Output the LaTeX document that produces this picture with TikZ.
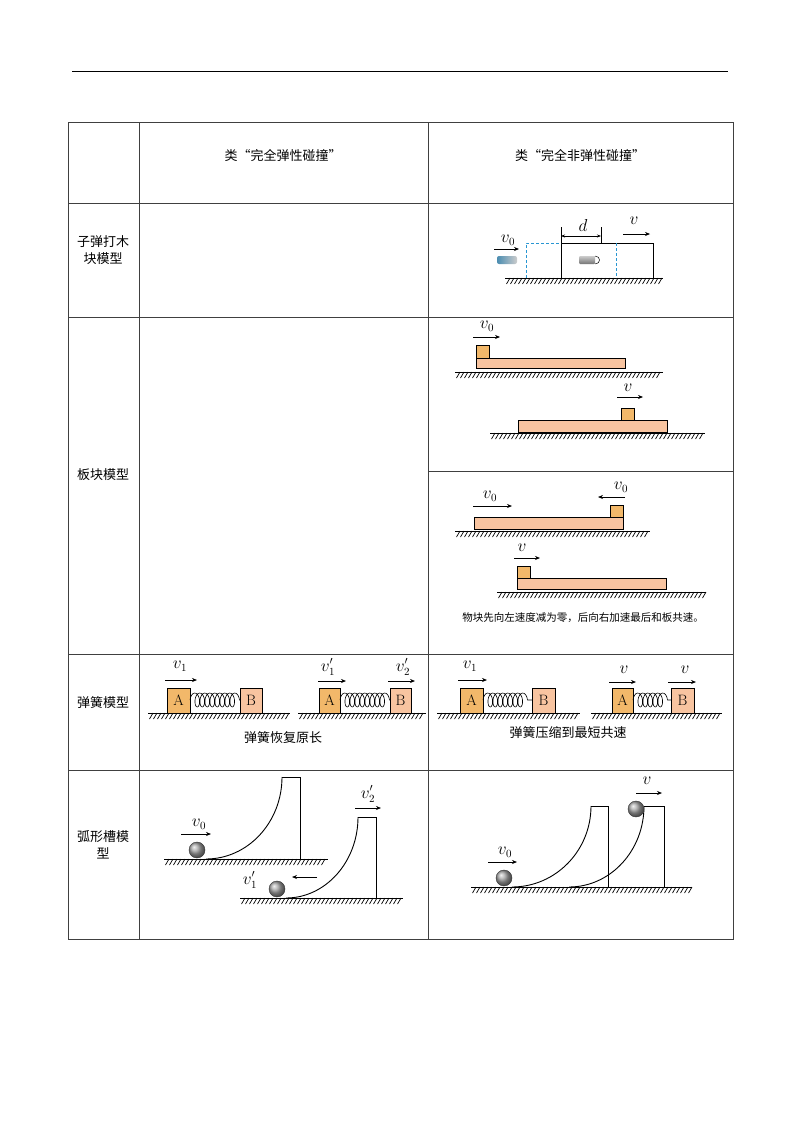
\documentclass[tikz,border=0pt]{standalone}
\usepackage{fontspec}
\newfontfamily\cjk{Noto Sans CJK SC}
\usetikzlibrary{arrows.meta,decorations.pathmorphing}
\definecolor{blkc}{RGB}{242,184,106}
\definecolor{plkc}{RGB}{248,196,160}
\definecolor{dashb}{RGB}{40,150,210}
\tikzset{
  tbl/.style={line width=0.8pt, black!75},
  hd/.style={font=\cjk\fontsize{13}{17}\selectfont, align=center},
  vec/.style={-{Stealth[length=5pt,width=4pt]}, line width=0.7pt},
  lab/.style={font=\fontsize{16}{16}\selectfont, inner sep=0pt},
  blk/.style={draw, fill=blkc, line width=0.6pt},
  plk/.style={draw, fill=plkc, line width=0.6pt},
  wall/.style={line width=0.9pt},
  ball/.style={ball color=gray!70, draw=black!80, line width=0.4pt},
}
\newcommand\gnd[3]{%
  \draw[line width=0.9pt] (#1,#3)--(#2,#3);
  \pgfmathtruncatemacro\gna{#1+5}\pgfmathtruncatemacro\gnb{#1+9}%
  \foreach \x in {\gna,\gnb,...,#2} \draw[line width=0.7pt] (\x,#3)--(\x-3.5,#3+6);}
\newcommand\arc[4]{%
  \pgfmathsetmacro\cxa{#1+0.552*(#2-#1)}\pgfmathsetmacro\cyb{#3-0.448*(#3-#4)}%
  \draw[wall] (#1,#3) .. controls (\cxa,#3) and (#2,\cyb) .. (#2,#4);}
\begin{document}
\begin{tikzpicture}[x=1pt,y=-1pt]
\useasboundingbox (0,0) rectangle (800,1132);
\draw[line width=1pt] (72,72)--(728,72);
\draw[tbl] (68,122) rectangle (733,939);
\foreach \y in {203,317,654,770} \draw[tbl] (68,\y)--(733,\y);
\draw[tbl] (139,122)--(139,939);
\draw[tbl] (428,122)--(428,939);
\draw[tbl] (428,471)--(733,471);
\node[hd] (h1) at (283,155) {类“完全弹性碰撞”};
\node[hd] (h2) at (580,155) {类“完全非弹性碰撞”};
\node[hd] (r1) at (103,250) {子弹打木\\块模型};
\node[hd] (r2) at (103,475) {板块模型};
\node[hd] (r3) at (103,703) {弹簧模型};
\node[hd] (r4) at (103,845) {弧形槽模\\型};
% ---- bullet
\gnd{505}{663}{278}
\draw[line width=0.8pt] (561,278)--(561,243)--(653,243)--(653,278);
\draw[dashb,densely dashed,line width=0.7pt] (526,278)--(526,243)--(561,243);
\draw[dashb,densely dashed,line width=0.7pt] (616,243)--(616,278);
\draw[line width=0.6pt] (561,227)--(561,243) (601,227)--(601,243);
\draw[{Stealth[length=4pt]}-{Stealth[length=4pt]},line width=0.6pt] (561,236)--(601,236);
\node[lab] (ld) at (583,225) {$d$};
\draw[vec] (623,234)--(650,234); \node[lab] (lv) at (634,221) {$v$};
\draw[vec] (494,249)--(519,249); \node[lab] (lv0) at (508,240) {$v_0$};
\shade[left color=dashb!60!gray, right color=gray!40, rounded corners=2pt] (497,256) rectangle (517,264);
\shade[top color=gray!40,bottom color=gray!90!black, rounded corners=1pt] (579,256) rectangle (595,264);
\draw[line width=0.5pt] (595,256) .. controls (601,256) and (601,264) .. (595,264);
% ---- plank top
\gnd{455}{663}{372}
\draw[plk] (476,358) rectangle (625,368);
\draw[blk] (476,345) rectangle (489,358);
\draw[vec] (473,337)--(500,337); \node[lab] (p1) at (487,326) {$v_0$};
\gnd{490}{705}{433}
\draw[plk] (518,420) rectangle (667,432);
\draw[blk] (621,408) rectangle (634,420);
\draw[vec] (617,397)--(643,397); \node[lab] (p2) at (628,388) {$v$};
% ---- plank bottom
\gnd{455}{650}{531}
\draw[plk] (474,517) rectangle (623,529);
\draw[blk] (610,505) rectangle (623,517);
\draw[vec] (473,506)--(512,506); \node[lab] (p3) at (490,496) {$v_0$};
\draw[vec] (625,497)--(598,497); \node[lab] (p4) at (621,487) {$v_0$};
\gnd{497}{706}{592}
\draw[plk] (517,578) rectangle (666,589);
\draw[blk] (517,566) rectangle (530,578);
\draw[vec] (514,558)--(540,558); \node[lab] (p5) at (522,548) {$v$};
\node[font=\cjk\fontsize{10.5}{12}\selectfont] (pc) at (583,618) {物块先向左速度减为零，后向右加速最后和板共速。};
% ---- springs
\tikzset{spr/.style={decorate,decoration={coil,segment length=5pt,amplitude=7pt},line width=0.6pt},
 ab/.style={font=\fontsize{15}{15}\selectfont}}
\gnd{148}{290}{713}
\draw[blk] (167,688) rectangle node[ab]{A} (190,713);
\draw[plk] (240,688) rectangle node[ab]{B} (262,713);
\draw[spr] (190,700)--(240,700);
\draw[vec] (165,680)--(197,680); \node[lab] (s1) at (180,666) {$v_1$};
\gnd{298}{426}{713}
\draw[blk] (319,688) rectangle node[ab]{A} (340,713);
\draw[plk] (390,688) rectangle node[ab]{B} (411,713);
\draw[spr] (340,700)--(390,700);
\draw[vec] (318,681)--(346,681); \node[lab] (s2) at (328,667) {$v_1'$};
\draw[vec] (388,681)--(415,681); \node[lab] (s3) at (403,667) {$v_2'$};
\node[hd] (sc1) at (283,738) {弹簧恢复原长};
\gnd{437}{580}{713}
\draw[blk] (460,688) rectangle node[ab]{A} (483,713);
\draw[plk] (532,688) rectangle node[ab]{B} (555,713);
\draw[spr] (483,700)--(532,700);
\draw[vec] (458,680)--(487,680); \node[lab] (s4) at (470,666) {$v_1$};
\gnd{591}{722}{713}
\draw[blk] (612,688) rectangle node[ab]{A} (633,713);
\draw[plk] (671,688) rectangle node[ab]{B} (694,713);
\draw[spr] (633,700)--(671,700);
\draw[vec] (609,682)--(636,682); \node[lab] (s5) at (624,670) {$v$};
\draw[vec] (668,682)--(696,682); \node[lab] (s6) at (685,670) {$v$};
\node[hd] (sc2) at (568,733) {弹簧压缩到最短共速};
% ---- arcs left
\gnd{164}{328}{859}
\arc{206}{282}{859}{777}
\draw[wall] (282,777)--(300,777)--(300,859);
\shade[ball] (197,850) circle (8);
\draw[vec] (181,834)--(211,834); \node[lab] (a1) at (199,824) {$v_0$};
\gnd{240}{403}{898}
\arc{286}{358}{898}{817}
\draw[wall] (358,817)--(376,817)--(376,898);
\shade[ball] (277,889) circle (8);
\draw[vec] (317,877)--(292,877); \node[lab] (a2) at (250,880) {$v_1'$};
\draw[vec] (355,808)--(381,808); \node[lab] (a3) at (368,794) {$v_2'$};
% ---- arcs right
\gnd{471}{692}{887}
\arc{512}{591}{887}{806}
\draw[wall] (591,806)--(608,806)--(608,887);
\arc{569}{644}{887}{806}
\draw[wall] (644,806)--(664,806)--(664,887);
\shade[ball] (504,878) circle (8);
\shade[ball] (636,809) circle (8);
\draw[vec] (488,862)--(517,862); \node[lab] (a4) at (505,852) {$v_0$};
\draw[vec] (636,793)--(662,793); \node[lab] (a5) at (647,781) {$v$};
\end{tikzpicture}
\end{document}
